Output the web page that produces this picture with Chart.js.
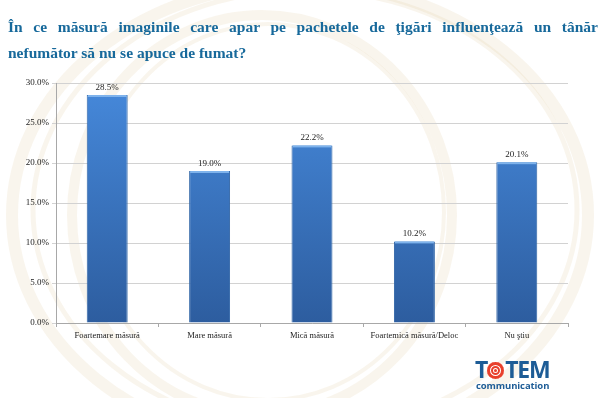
<!DOCTYPE html>
<html>
<head>
<meta charset="utf-8">
<script src="https://cdn.jsdelivr.net/npm/chart.js@4"></script>
<style>
  html, body { margin: 0; padding: 0; background: #fff; }
  #wrap { position: relative; width: 600px; height: 398px; overflow: hidden; }
  #chart { position: absolute; left: 0; top: 0; }
  #title {
    position: absolute; left: 8px; top: 14px; width: 590px;
    font-family: "Liberation Serif", serif; font-weight: bold; font-size: 15.5px;
    line-height: 26px; color: #17699b;
  }
  #title .l1 { text-align: justify; text-align-last: justify; white-space: normal; }
  #logo { position: absolute; left: 475px; top: 357px; font-family: "Open Sans", sans-serif; color: #1d5c96; }
  #logo .big { font-size: 23px; font-weight: bold; letter-spacing: -1.2px; line-height: 24px; white-space: nowrap; }
  #logo .o {
    display: inline-block; width: 17px; height: 17px; border-radius: 50%;
    background: #e8402c; box-shadow: inset 0 0 0 3px #e8402c, inset 0 0 0 4px #fff, inset 0 0 0 6px #e8402c, inset 0 0 0 7px #fff;
    vertical-align: -1px; margin: 0 1px 0 0;
  }
  #logo .small { font-size: 9.5px; font-weight: bold; line-height: 10px; margin-left: 1px; letter-spacing: -0.1px; }
</style>
</head>
<body>
<div id="wrap">
  <canvas id="chart" width="600" height="398"></canvas>
  <div id="title"><div class="l1">În ce măsură imaginile care apar pe pachetele de ţigări influenţează un tânăr</div><div>nefumător să nu se apuce de fumat?</div></div>
  <div id="logo"><div class="big">T<span class="o"></span>TEM</div><div class="small">communication</div></div>
</div>
<script>
// chart data
const categories = ['Foartemare măsură', 'Mare măsură', 'Mică măsură', 'Foartemică măsură/Deloc', 'Nu ştiu'];
const values = [28.5, 19.0, 22.2, 10.2, 20.1];
const yTicks = [0, 5, 10, 15, 20, 25, 30];

// faint beige rings in the background
const swirl = {
  id: 'swirl',
  beforeDraw(chart) {
    const ctx = chart.ctx;
    ctx.save();
    ctx.strokeStyle = 'rgba(220, 195, 145, 0.16)';
    ctx.lineWidth = 12;
    ctx.beginPath();
    ctx.ellipse(300, 215, 288, 232, 0, 0, Math.PI * 2);
    ctx.stroke();
    ctx.lineWidth = 5;
    ctx.beginPath();
    ctx.ellipse(305, 210, 272, 220, 0, 0, Math.PI * 2);
    ctx.stroke();
    ctx.lineWidth = 10;
    ctx.beginPath();
    ctx.ellipse(262, 215, 190, 200, 0, 0, Math.PI * 2);
    ctx.stroke();
    ctx.lineWidth = 4;
    ctx.beginPath();
    ctx.ellipse(268, 212, 176, 188, 0, 0, Math.PI * 2);
    ctx.stroke();
    ctx.restore();
  }
};

// value labels above the bars + light top edge on each bar
const valueLabels = {
  id: 'valueLabels',
  afterDatasetsDraw(chart) {
    const ctx = chart.ctx;
    const meta = chart.getDatasetMeta(0);
    ctx.save();
    meta.data.forEach((bar) => {
      ctx.fillStyle = '#7fb3ec';
      ctx.fillRect(bar.x - bar.width / 2 + 1, bar.y, bar.width - 2, 2);
    });
    ctx.font = '9px "Liberation Serif", serif';
    ctx.fillStyle = '#222';
    ctx.textAlign = 'center';
    ctx.textBaseline = 'bottom';
    meta.data.forEach((bar, i) => {
      ctx.fillText(values[i].toFixed(1) + '%', bar.x, bar.y - 3);
    });
    ctx.restore();
  }
};

const canvas = document.getElementById('chart');

new Chart(canvas, {
  type: 'bar',
  data: {
    labels: categories,
    datasets: [{
      data: values,
      backgroundColor: function(context) {
        const area = context.chart.chartArea;
        if (!area) return '#3b78c8';
        const g = context.chart.ctx.createLinearGradient(0, area.top, 0, area.bottom);
        g.addColorStop(0, '#4689db');
        g.addColorStop(1, '#2d5d9f');
        return g;
      },
      borderColor: '#2f64a6',
      borderWidth: 1,
      borderSkipped: 'bottom',
      categoryPercentage: 1,
      barPercentage: 0.40
    }]
  },
  plugins: [swirl, valueLabels],
  options: {
    responsive: false,
    animation: false,
    layout: { padding: { left: 0, right: 32, top: 83, bottom: 55 } },
    plugins: {
      legend: { display: false },
      tooltip: { enabled: false }
    },
    scales: {
      x: {
        grid: { display: true, drawOnChartArea: false, offset: true, tickLength: 4, color: '#a8a8a8' },
        border: { color: '#a8a8a8' },
        ticks: { color: '#222', font: { family: '"Liberation Serif", serif', size: 8.5 }, maxRotation: 0, padding: 4 },
        afterFit(scale) { scale.height = 20; }
      },
      y: {
        min: 0,
        max: 30,
        afterBuildTicks(scale) { scale.ticks = yTicks.map(v => ({ value: v })); },
        grid: { color: '#d2d2d2', tickLength: 4 },
        border: { color: '#a8a8a8' },
        ticks: {
          color: '#222',
          font: { family: '"Liberation Serif", serif', size: 9 },
          padding: 3,
          callback: v => v.toFixed(1) + '%'
        },
        afterFit(scale) { scale.width = 56; }
      }
    }
  }
});
</script>
</body>
</html>
